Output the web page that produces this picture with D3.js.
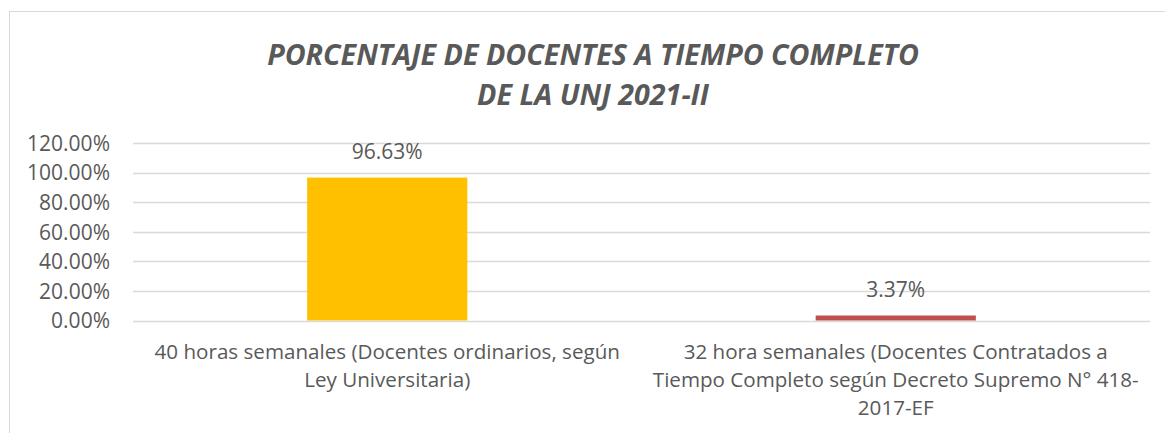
<!DOCTYPE html>
<html>
<head>
<meta charset="utf-8">
<script src="https://d3js.org/d3.v7.min.js"></script>
<style>
  body { margin: 0; background: #fff; }
  text { font-family: "Open Sans", "Liberation Sans", sans-serif; fill: #595959; }
</style>
</head>
<body>
<div id="chart"></div>
<script>
// Données
const categories = [
  ["40 horas semanales (Docentes ordinarios, según", "Ley Universitaria)"],
  ["32 hora semanales (Docentes Contratados a", "Tiempo Completo según Decreto Supremo N° 418-", "2017-EF"]
];
const values = [0.9663, 0.0337];
const barColors = ["#FFC000", "#C0504D"];
const yTicks = [0, 0.2, 0.4, 0.6, 0.8, 1.0, 1.2];
const titleLines = ["PORCENTAJE DE DOCENTES A TIEMPO COMPLETO", "DE LA UNJ 2021-II"];

const width = 1165;
const height = 433;
const margin = { top: 143, right: 15, bottom: 113, left: 133 };

const svg = d3.select("#chart").append("svg")
  .attr("width", width)
  .attr("height", height);

// cadre
svg.append("rect")
  .attr("x", 9.5).attr("y", 11.5)
  .attr("width", width).attr("height", height)
  .attr("fill", "none")
  .attr("stroke", "#d9d9d9");

// titre
svg.append("g").selectAll("text")
  .data(titleLines)
  .join("text")
  .attr("x", 593)
  .attr("y", (d, i) => 65 + i * 40)
  .attr("text-anchor", "middle")
  .style("font-size", "28.7px")
  .style("font-weight", "bold")
  .style("font-style", "italic")
  .text(d => d);

const x = d3.scaleBand()
  .domain(d3.range(values.length))
  .range([margin.left, width - margin.right])
  .paddingInner(0.685)
  .paddingOuter(0.3425);

const y = d3.scaleLinear()
  .domain([0, 1.2])
  .range([height - margin.bottom + 0.5, margin.top]);

// grille
svg.append("g").selectAll("line")
  .data(yTicks)
  .join("line")
  .attr("x1", margin.left)
  .attr("x2", width - margin.right)
  .attr("y1", d => Math.round(y(d)) + 0.5)
  .attr("y2", d => Math.round(y(d)) + 0.5)
  .attr("stroke", "#d9d9d9")
  .attr("stroke-width", 1.3);

// axe Y
const yAxis = svg.append("g")
  .attr("transform", `translate(${margin.left - 23},0)`)
  .call(d3.axisLeft(y).tickValues(yTicks).tickFormat(d3.format(".2%")).tickSize(0).tickPadding(0));
yAxis.select(".domain").remove();
yAxis.selectAll("text")
  .style("font-size", "21px")
  .style("fill", "#595959")
  .attr("dy", "0.35em");

// barres
svg.append("g").selectAll("rect")
  .data(values)
  .join("rect")
  .attr("x", (d, i) => x(i))
  .attr("width", x.bandwidth())
  .attr("y", d => y(d))
  .attr("height", d => y(0) - y(d))
  .attr("fill", (d, i) => barColors[i]);

// étiquettes de valeurs
svg.append("g").selectAll("text")
  .data(values)
  .join("text")
  .attr("x", (d, i) => x(i) + x.bandwidth() / 2)
  .attr("y", d => y(d) - 19)
  .attr("text-anchor", "middle")
  .style("font-size", "21px")
  .text(d => d3.format(".2%")(d));

// catégories
const cat = svg.append("g").selectAll("text")
  .data(categories)
  .join("text")
  .attr("text-anchor", "middle")
  .style("font-size", "20.6px");
cat.selectAll("tspan")
  .data((d, i) => d.map(line => ({ line, i })))
  .join("tspan")
  .attr("x", d => x(d.i) + x.bandwidth() / 2)
  .attr("y", (d, j) => 359 + j * 28)
  .text(d => d.line);
</script>
</body>
</html>
